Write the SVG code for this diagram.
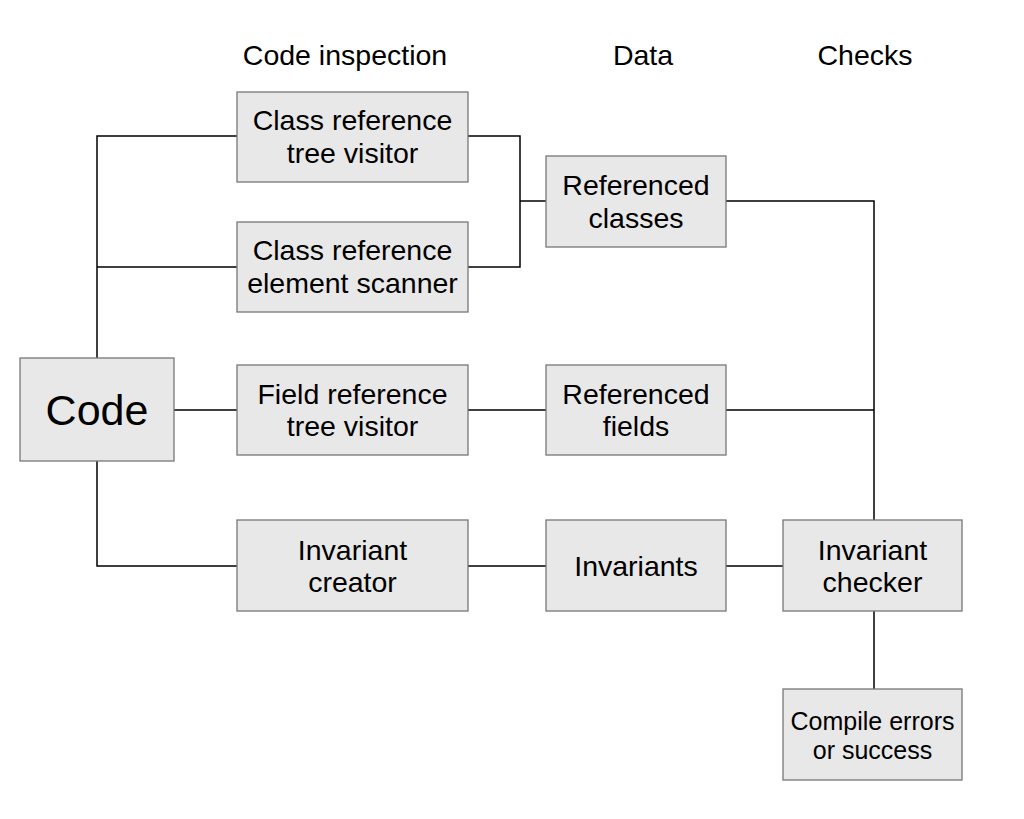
<svg xmlns="http://www.w3.org/2000/svg" width="1024" height="819" viewBox="0 0 1024 819">
<style>
.box{fill:#e8e8e8;stroke:#777;stroke-width:1.3}
text{font-family:"Liberation Sans",Arial,sans-serif;fill:#000;text-anchor:middle}
.t{font-size:28.5px}
.h{font-size:28.5px}
.s{font-size:25px}
.conn{fill:none;stroke:#000;stroke-width:1.5}
</style>
<rect width="1024" height="819" fill="#fff"/>
<g id="headers">
<text class="h" x="345" y="65">Code inspection</text>
<text class="h" x="643" y="65">Data</text>
<text class="h" x="865" y="65">Checks</text>
</g>
<g id="connectors">
<polyline class="conn" points="97,358 97,136 237,136"/>
<line class="conn" x1="97" y1="267" x2="237" y2="267"/>
<line class="conn" x1="174" y1="410" x2="237" y2="410"/>
<polyline class="conn" points="97,461 97,566 237,566"/>
<polyline class="conn" points="468,136 520,136 520,267 468,267"/>
<line class="conn" x1="520" y1="201" x2="546" y2="201"/>
<polyline class="conn" points="726,201 874,201 874,520"/>
<line class="conn" x1="468" y1="410" x2="546" y2="410"/>
<line class="conn" x1="726" y1="410" x2="874" y2="410"/>
<line class="conn" x1="468" y1="566" x2="546" y2="566"/>
<line class="conn" x1="726" y1="566" x2="783" y2="566"/>
<line class="conn" x1="874" y1="611" x2="874" y2="689"/>
</g>
<g id="code"><rect class="box" x="20" y="358" width="154" height="103"/><text x="97" y="425" font-size="43">Code</text></g>
<g id="crtv"><rect class="box" x="237" y="92" width="231" height="90"/><text class="t" x="352.5" y="130">Class reference</text><text class="t" x="352.5" y="163">tree visitor</text></g>
<g id="cres"><rect class="box" x="237" y="222" width="231" height="90"/><text class="t" x="352.5" y="260">Class reference</text><text class="t" x="352.5" y="293">element scanner</text></g>
<g id="frtv"><rect class="box" x="237" y="365" width="231" height="90"/><text class="t" x="352.5" y="404">Field reference</text><text class="t" x="352.5" y="436">tree visitor</text></g>
<g id="ic"><rect class="box" x="237" y="520" width="231" height="91"/><text class="t" x="352.5" y="560">Invariant</text><text class="t" x="352.5" y="592">creator</text></g>
<g id="rc"><rect class="box" x="546" y="156" width="180" height="91"/><text class="t" x="636" y="195">Referenced</text><text class="t" x="636" y="228">classes</text></g>
<g id="rf"><rect class="box" x="546" y="365" width="180" height="90"/><text class="t" x="636" y="404">Referenced</text><text class="t" x="636" y="436">fields</text></g>
<g id="inv"><rect class="box" x="546" y="520" width="180" height="91"/><text class="t" x="636" y="576">Invariants</text></g>
<g id="chk"><rect class="box" x="783" y="520" width="179" height="91"/><text class="t" x="872.5" y="560">Invariant</text><text class="t" x="872.5" y="592">checker</text></g>
<g id="out"><rect class="box" x="783" y="689" width="179" height="91"/><text class="s" x="872.5" y="730">Compile errors</text><text class="s" x="872.5" y="759">or success</text></g>
</svg>
